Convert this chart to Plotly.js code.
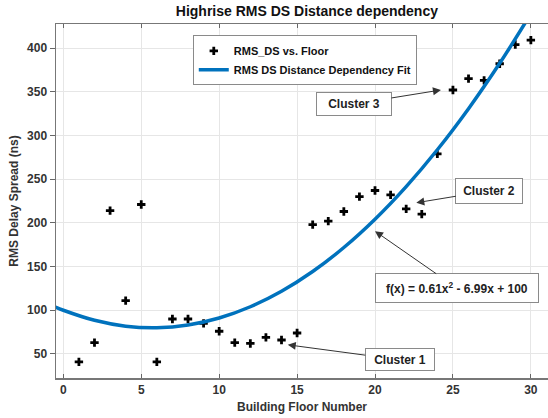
<!DOCTYPE html>
<html>
<head>
<meta charset="utf-8">
<script src="https://cdn.plot.ly/plotly-3.0.1.min.js"></script>
<style>html,body{margin:0;padding:0;background:#fff}#chart{width:548px;height:418px}</style>
</head>
<body>
<div id="chart"></div>
<script>
// Measured data: RMS delay spread per floor
const floors = [1,2,3,4,5,6,7,8,9,10,11,12,13,14,15,16,17,18,19,20,21,22,23,24,25,26,27,28,29,30];
const rmsDS  = [41,63,214,111,221,41,90,90,85,76,63,62,69,66,74,198,202,213,230,237,232,216,210,279,352,365,363,382,404,409];

// Fit curve (f(x) = 0.61x^2 - 6.99x + 100)
const fitX = [-0.5,0,2,4,6,8,10,12,14,16,18,20,22,24,26,28,30];
const fitY = [103.6,100,88.5,81.8,80,83.1,91.1,104,121.7,144.3,171.8,204.2,241.5,283.6,330.6,382.5,439.3];

const xTicks = [0,5,10,15,20,25,30];
const yTicks = [50,100,150,200,250,300,350,400];

const labels = ["Cluster 3","Cluster 2","f(x) = 0.61x<sup>2</sup> - 6.99x + 100","Cluster 1"];
const labelPts = [[24.23,352],[22.65,223],[20.0,190.5],[14.4,60.5]];

const fnt = "Liberation Sans, Arial, sans-serif";
const baseAnn = {
  xref:'x', yref:'y', showarrow:true, arrowhead:2, arrowsize:1.6, arrowwidth:1,
  arrowcolor:'#333', bgcolor:'#fff', bordercolor:'#8a8a8a', borderwidth:1,
  font:{family:fnt, size:12, color:'#222', weight:'bold'}
};
const offs = [[-87,14,72,20],[73,-12,64,22],[82,57,160,26],[112,15,66,19]];
const annotations = labels.map((t,i)=>Object.assign({}, baseAnn, {
  text:'<b>'+t+'</b>', x:labelPts[i][0], y:labelPts[i][1],
  ax:offs[i][0], ay:offs[i][1], width:offs[i][2], height:offs[i][3], borderpad:1
}));

const data = [
  {x:floors, y:rmsDS, type:'scatter', mode:'markers', name:'RMS_DS vs. Floor',
   marker:{symbol:'cross', size:7, color:'#000'}},
  {x:fitX, y:fitY, type:'scatter', mode:'lines', name:'RMS DS Distance Dependency Fit',
   line:{color:'#0072BD', width:3.5, shape:'spline'}}
];

const layout = {
  width:548, height:418,
  margin:{l:56, r:0, t:24, b:40},
  paper_bgcolor:'#fff', plot_bgcolor:'#fff',
  font:{family:fnt, color:'#333'},
  title:{text:'<b>Highrise RMS DS Distance dependency</b>', x:0.51, xref:'paper', xanchor:'center',
         y:0.985, yref:'container', yanchor:'top', font:{size:14, color:'#111', family:fnt}},
  showlegend:true,
  legend:{x:0.278, y:0.968, xanchor:'left', yanchor:'top', bgcolor:'#fff',
          bordercolor:'#8a8a8a', borderwidth:1, font:{size:11, color:'#111', family:fnt, weight:'bold'},
          itemwidth:30, tracegroupgap:0},
  xaxis:{range:[-0.47,31.1], tickvals:xTicks, ticktext:xTicks.map(String), ticks:'inside', ticklen:4,
         tickcolor:'#666', showline:true, linecolor:'#777', linewidth:1.5, mirror:'ticks',
         showgrid:true, gridcolor:'#e6e6e6', zeroline:false,
         tickfont:{size:12, color:'#333', family:fnt, weight:'bold'},
         title:{text:'<b>Building Floor Number</b>', font:{size:12, color:'#333', family:fnt}, standoff:6}},
  yaxis:{range:[22.5,427.5], tickvals:yTicks, ticktext:yTicks.map(String), ticks:'outside', ticklen:5,
         tickcolor:'#666', showline:true, linecolor:'#777', linewidth:1.5, mirror:true,
         showgrid:true, gridcolor:'#e6e6e6', zeroline:false,
         tickfont:{size:12, color:'#333', family:fnt, weight:'bold'},
         title:{text:'<b>RMS Delay Spread (ns)</b>', font:{size:12, color:'#333', family:fnt}, standoff:6}},
  annotations:annotations
};

Plotly.newPlot('chart', data, layout, {displayModeBar:false, staticPlot:true});
</script>
</body>
</html>
